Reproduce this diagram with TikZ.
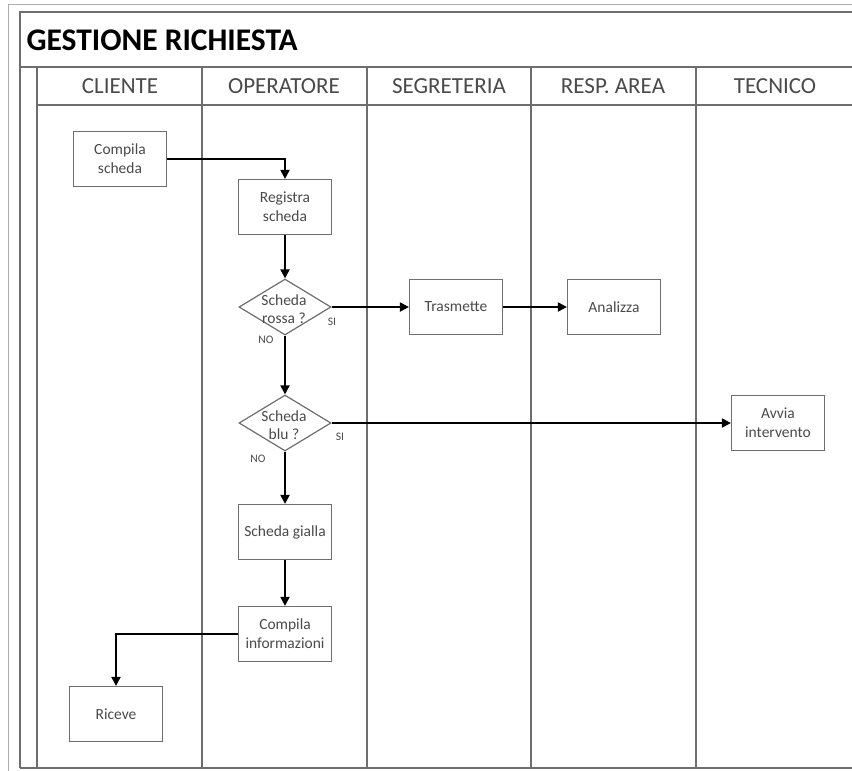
\documentclass[tikz,border=0pt]{standalone}
\usepackage{fontspec}
\setmainfont{Carlito}
\usetikzlibrary{arrows.meta,shapes.geometric}
\definecolor{txtgray}{HTML}{4A4A4A}
\definecolor{linegray}{HTML}{6E6E6E}
\definecolor{framegray}{HTML}{8A8A8A}
\tikzset{
  frame/.style={draw=framegray,line width=1pt},
  lane/.style={draw=linegray,line width=1.3pt},
  stepbox/.style={draw=linegray,line width=1.2pt,rectangle,minimum width=93pt,
    minimum height=55pt,inner sep=2pt,align=center,text=txtgray,
    font=\fontsize{15.5}{19}\selectfont},
  decision/.style={draw=linegray,line width=1.2pt,diamond,minimum width=92pt,
    minimum height=56pt,inner sep=0pt},
  decisiontext/.style={align=center,text=txtgray,font=\fontsize{15.5}{18}\selectfont},
  flow/.style={draw=black,line width=2pt,-{Triangle[length=9pt,width=9pt]}},
  branch/.style={text=txtgray,font=\fontsize{11.5}{12}\selectfont},
  header/.style={text=txtgray,font=\fontsize{23}{25}\selectfont},
}
\begin{document}
\begin{tikzpicture}[x=1pt,y=-1pt]
\useasboundingbox (0,0) rectangle (852,771);
\fill[white] (0,0) rectangle (852,771);

% outer and inner frames
\draw[frame,draw=framegray!70] (8,771) -- (8,4) -- (852,4);
\draw[lane] (20,768) -- (20,12) -- (852,12);
\draw[lane] (20,768) -- (852,768);
\draw[lane] (20,67) -- (852,67);
\draw[lane] (37,67) -- (37,768);
\draw[lane] (37,105) -- (852,105);
\foreach \x in {202,367,531,696} \draw[lane] (\x,67) -- (\x,768);

% title and lane headers
\node[anchor=west,font=\fontsize{31.5}{33}\selectfont\bfseries] (title) at (23,40) {GESTIONE RICHIESTA};
\node[header] (hcl) at (120,86) {CLIENTE};
\node[header] (hop) at (284,86) {OPERATORE};
\node[header] (hse) at (449,86) {SEGRETERIA};
\node[header] (hra) at (613,86) {RESP. AREA};
\node[header] (hte) at (775,86) {TECNICO};

% process steps
\node[stepbox] (cs) at (120,159) {Compila\\scheda};
\node[stepbox] (rs) at (285,207) {Registra\\scheda};
\node[decision] (d1) at (285,307) {};
\node[decisiontext] (d1t) at (284,309) {Scheda\\rossa ?};
\node[stepbox] (tr) at (456,307) {Trasmette};
\node[stepbox] (an) at (614,307) {Analizza};
\node[decision] (d2) at (285,423) {};
\node[decisiontext] (d2t) at (284,425) {Scheda\\blu ?};
\node[stepbox] (av) at (778,423) {Avvia\\intervento};
\node[stepbox] (sg) at (285,532) {Scheda gialla};
\node[stepbox] (ci) at (285,634) {Compila\\informazioni};
\node[stepbox] (ri) at (116,714) {Riceve};

% branch labels
\node[branch] (si1) at (332,322) {SI};
\node[branch] (no1) at (266,340) {NO};
\node[branch] (si2) at (340,437) {SI};
\node[branch] (no2) at (258,459) {NO};

% connectors
\draw[flow] (cs.east) -| (rs.north);
\draw[flow] (rs.south) -- (d1.north);
\draw[flow] (d1.east) -- (tr.west);
\draw[flow] (tr.east) -- (an.west);
\draw[flow] (d1.south) -- (d2.north);
\draw[flow] (d2.east) -- (av.west);
\draw[flow] (d2.south) -- (sg.north);
\draw[flow] (sg.south) -- (ci.north);
\draw[flow] (ci.west) -| (ri.north);
\end{tikzpicture}
\end{document}
